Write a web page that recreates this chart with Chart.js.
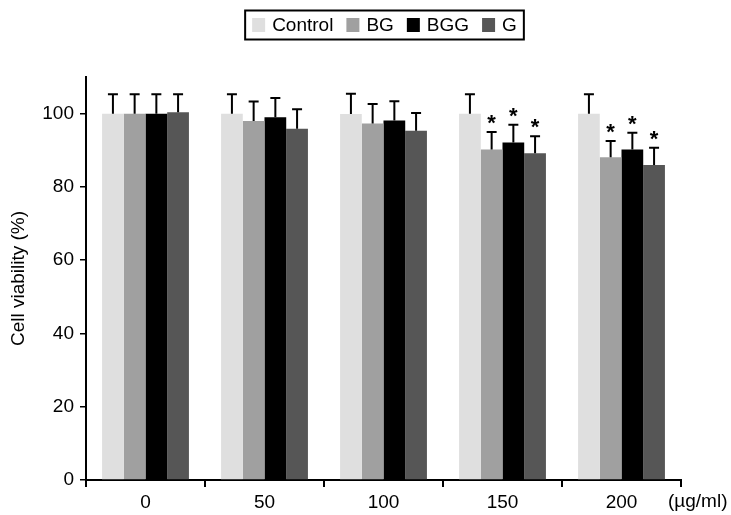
<!DOCTYPE html>
<html>
<head>
<meta charset="utf-8">
<script src="https://cdn.jsdelivr.net/npm/chart.js@4/dist/chart.umd.min.js"></script>
<style>
  html, body { margin: 0; padding: 0; background: #fff; }
  #wrap { width: 731px; height: 515px; position: relative; }
</style>
</head>
<body>
<div id="wrap"><canvas id="chart"></canvas></div>
<script>
'use strict';

/* ── Data ── */
const doses = ['0', '50', '100', '150', '200'];
const seriesNames = ['Control', 'BG', 'BGG', 'G'];
const seriesColors = ['#dfdfdf', '#a0a0a0', '#000000', '#565656'];

const controlVals = [100, 100, 99.9, 100, 100];
const bgVals      = [100, 98.0, 97.3, 90.2, 88.1];
const bggVals     = [100, 99.0, 98.1, 92.1, 90.2];
const gVals       = [100.4, 95.9, 95.3, 89.2, 86.0];

const controlErr = [5.3, 5.3, 5.5, 5.3, 5.3];
const bgErr      = [5.3, 5.3, 5.3, 4.8, 4.4];
const bggErr     = [5.3, 5.3, 5.3, 4.9, 4.6];
const gErr       = [4.9, 5.3, 4.9, 4.6, 4.7];

/* significance markers (true = '*') */
const controlSig = [false, false, false, false, false];
const bgSig      = [false, false, false, true, true];
const bggSig     = [false, false, false, true, true];
const gSig       = [false, false, false, true, true];

const yTicks = [0, 20, 40, 60, 80, 100];
const unitLabel = '(\u00b5g/ml)';

const FONT = "'Liberation Sans', Arial, Helvetica, sans-serif";
const FSIZE = 19;

const allErr  = [controlErr, bgErr, bggErr, gErr];
const allSig  = [controlSig, bgSig, bggSig, gSig];
const allVals = [controlVals, bgVals, bggVals, gVals];

/* ── Plugin: upper error bars + stars ── */
const errorBarPlugin = {
  id: 'errorBars',
  afterDatasetsDraw(chart) {
    const ctx = chart.ctx;
    const yScale = chart.scales.y;
    ctx.save();
    ctx.strokeStyle = '#000';
    ctx.fillStyle = '#000';
    ctx.lineWidth = 2;
    chart.data.datasets.forEach((ds, di) => {
      const meta = chart.getDatasetMeta(di);
      meta.data.forEach((bar, i) => {
        const top = yScale.getPixelForValue(ds.data[i]);
        const cap = yScale.getPixelForValue(ds.data[i] + allErr[di][i]);
        ctx.beginPath();
        ctx.moveTo(bar.x, top);
        ctx.lineTo(bar.x, cap);
        ctx.moveTo(bar.x - 5, cap);
        ctx.lineTo(bar.x + 5, cap);
        ctx.stroke();
        if (allSig[di][i]) {
          ctx.font = 'bold 22px ' + FONT;
          ctx.textAlign = 'center';
          ctx.textBaseline = 'alphabetic';
          const m = ctx.measureText('*');
          const mid = (m.actualBoundingBoxAscent - m.actualBoundingBoxDescent) / 2;
          ctx.fillText('*', bar.x, cap - 12.5 + mid);
        }
      });
    });
    ctx.restore();
  }
};

/* ── Plugin: boxed legend + unit label ── */
const boxLegendPlugin = {
  id: 'boxLegend',
  afterDraw(chart) {
    const ctx = chart.ctx;
    ctx.save();
    ctx.font = FSIZE + 'px ' + FONT;
    const sq = 13, gapIn = 7, gapOut = 13, pad = 7;
    const widths = chart.data.datasets.map(d => ctx.measureText(d.label).width);
    let total = pad * 2;
    widths.forEach((w, i) => { total += sq + gapIn + w + (i < widths.length - 1 ? gapOut : 0); });
    const cx = 384.5, top = 10.5, h = 29;
    let x = cx - total / 2;
    ctx.strokeStyle = '#000';
    ctx.lineWidth = 2;
    ctx.strokeRect(x, top, total, h);
    x += pad;
    ctx.textBaseline = 'middle';
    ctx.textAlign = 'left';
    chart.data.datasets.forEach((d, i) => {
      ctx.fillStyle = d.backgroundColor;
      ctx.fillRect(x, top + h / 2 - 7, sq, 14);
      x += sq + gapIn;
      ctx.fillStyle = '#000';
      ctx.fillText(d.label, x, top + h / 2 + 1);
      x += widths[i] + gapOut;
    });

    /* unit label right of the x axis */
    const xs = chart.scales.x;
    ctx.textAlign = 'left';
    ctx.fillText(unitLabel, chart.chartArea.right - 13, xs.top + 22);
    ctx.restore();
  }
};

const datasets = seriesNames.map((name, i) => ({
  label: name,
  data: allVals[i],
  backgroundColor: seriesColors[i],
  borderWidth: 0,
  categoryPercentage: 0.73,
  barPercentage: 1.0
}));

new Chart(document.getElementById('chart'), {
  type: 'bar',
  data: { labels: doses, datasets },
  options: {
    responsive: true,
    maintainAspectRatio: false,
    animation: false,
    layout: { padding: { top: 77, right: 50, left: 0, bottom: 0 } },
    plugins: {
      legend: { display: false },
      tooltip: { enabled: false }
    },
    scales: {
      x: {
        offset: true,
        grid: {
          display: true,
          offset: true,
          drawOnChartArea: false,
          drawTicks: true,
          tickLength: 7,
          color: '#000',
          lineWidth: 2
        },
        border: { display: true, color: '#000', width: 2 },
        ticks: {
          color: '#000',
          font: { family: FONT, size: FSIZE },
          padding: 4,
          maxRotation: 0
        },
        afterFit(scale) { scale.height = 35; }
      },
      y: {
        min: 0,
        max: 110,
        afterBuildTicks(scale) {
          scale.ticks = yTicks.map(v => ({ value: v }));
        },
        grid: {
          display: true,
          drawOnChartArea: false,
          drawTicks: true,
          tickLength: 6,
          color: '#000',
          lineWidth: 1.5
        },
        border: { display: true, color: '#000', width: 2 },
        ticks: {
          color: '#000',
          font: { family: FONT, size: FSIZE },
          padding: 6
        },
        title: {
          display: true,
          text: 'Cell viability (%)',
          color: '#000',
          font: { family: FONT, size: FSIZE },
          padding: { top: 7, bottom: 0 }
        },
        afterFit(scale) { scale.width = 86; }
      }
    }
  },
  plugins: [errorBarPlugin, boxLegendPlugin]
});
</script>
</body>
</html>
